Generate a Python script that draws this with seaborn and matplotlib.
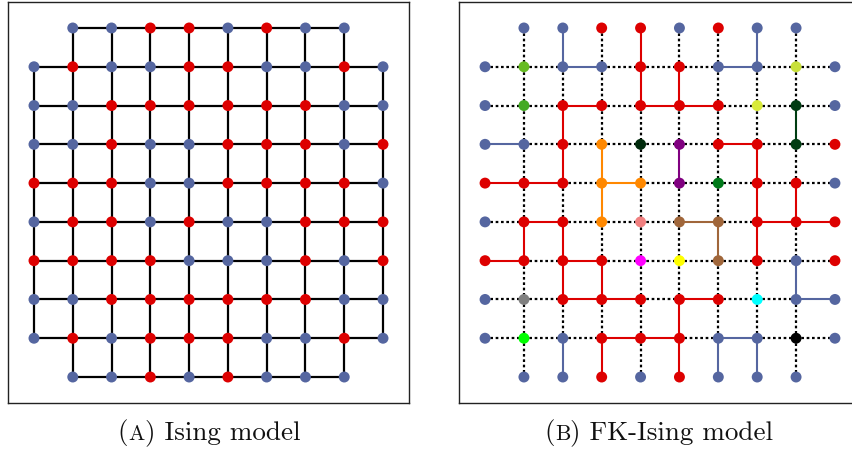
import pandas as pd
import matplotlib
matplotlib.use('Agg')
import matplotlib.pyplot as plt
import seaborn as sns
from matplotlib.offsetbox import TextArea, HPacker, AnnotationBbox

sns.set_style('white')

# ---- data: spins, row 0 at the top, '.' = no site ----
ising_rows = [
    '.BBRRBRBB.',
    'BRBBRRBBRB',
    'BBRRRRRRBB',
    'BBRBBRRRBR',
    'RRRBBRRRRB',
    'BRRBRBBRRR',
    'RRRRBBBRBR',
    'BBRRRRRRBB',
    'BRBRRRBBRB',
    '.BBRBRBBB.',
]

# FK-Ising: cluster colour code of every site
fk_rows = [
    '.BBRRBRBB.',
    'BgBBRRBByB',
    'BGRRRRRYdB',
    'BBRokpRRdR',
    'RRRoopeRRB',
    'BRRosnnRRR',
    'RRRRmwnRBR',
    'BaRRRRRcBB',
    'BlBRRRBBxB',
    '.BBRBRBBB.',
]

# open bonds, horizontal: rows 1..8, bond between col c and c+1
fk_h_open = [
    '001000100',
    '001011000',
    '100000100',
    '110100000',
    '010001011',
    '101000000',
    '001101001',
    '000110100',
]
# open bonds, vertical: between row r and r+1, cols 1..8
fk_v_open = [
    '01010010',
    '00011000',
    '01000001',
    '01101010',
    '00100011',
    '11000110',
    '01100001',
    '00001000',
    '01101110',
]

colors = {
    'B': '#5566a0', 'R': '#dd0000',
    'g': '#66bb22', 'G': '#44aa22', 'y': '#c8e03a', 'Y': '#d8ea3a',
    'd': '#003d12', 'k': '#002a0c', 'p': '#800080', 'o': '#ff8800',
    'e': '#007a1a', 's': '#f08080', 'n': '#a0663a', 'm': '#ff00ff',
    'w': '#ffff00', 'a': '#808080', 'c': '#00ffff', 'l': '#00ff00',
    'x': '#000000',
}

captions = [('(', 'A', ') Ising model'), ('(', 'B', ') FK-Ising model')]


def build_nodes(rows):
    recs = []
    for r, line in enumerate(rows):
        for c, ch in enumerate(line):
            if ch != '.':
                recs.append({'x': c, 'y': r, 'color': colors[ch]})
    return pd.DataFrame(recs)


def build_edges(rows, h_open=None, v_open=None):
    n = len(rows)
    recs = []
    eid = 0

    def boundary(r, c):
        return r in (0, n - 1) or c in (0, n - 1)

    for r in range(n):
        for c in range(n):
            if rows[r][c] == '.':
                continue
            for dr, dc in ((0, 1), (1, 0)):
                r2, c2 = r + dr, c + dc
                if r2 >= n or c2 >= n or rows[r2][c2] == '.':
                    continue
                if h_open is None:
                    kind, col = 'solid', '#000000'
                else:
                    # FK picture: no bonds along the outer boundary
                    if boundary(r, c) and boundary(r2, c2):
                        continue
                    if dr == 0:
                        is_open = h_open[r - 1][c] == '1'
                    else:
                        is_open = v_open[r][c - 1] == '1'
                    kind = 'solid' if is_open else 'dotted'
                    col = colors[rows[r][c]] if is_open else '#000000'
                recs.append({'edge': eid, 'x': c, 'y': r, 'color': col, 'kind': kind})
                recs.append({'edge': eid, 'x': c2, 'y': r2, 'color': col, 'kind': kind})
                eid += 1
    return pd.DataFrame(recs)


fig = plt.figure(figsize=(8.52, 4.51), dpi=100)
W, H = 852, 451
ax1 = fig.add_axes([8 / W, 48 / H, 401 / W, 401 / H])
ax2 = fig.add_axes([459 / W, 48 / H, 402 / W, 401 / H])

palette = {v: v for v in colors.values()}

# ---- (A) Ising model ----
e1 = build_edges(ising_rows)
sns.lineplot(data=e1, x='x', y='y', units='edge', estimator=None, sort=False,
             color='black', lw=1.6, ax=ax1, legend=False)
n1 = build_nodes(ising_rows)
sns.scatterplot(data=n1, x='x', y='y', hue='color', palette=palette, s=62,
                linewidth=0, ax=ax1, legend=False, zorder=5)

# ---- (B) FK-Ising model ----
e2 = build_edges(fk_rows, fk_h_open, fk_v_open)
dotted = e2[e2['kind'] == 'dotted']
solid = e2[e2['kind'] == 'solid']
sns.lineplot(data=dotted, x='x', y='y', units='edge', estimator=None, sort=False,
             color='black', lw=1.6, linestyle=(0, (1.2, 1.2)), ax=ax2, legend=False)
sns.lineplot(data=solid, x='x', y='y', units='edge', estimator=None, sort=False,
             hue='color', palette={c: c for c in solid['color'].unique()},
             lw=1.5, ax=ax2, legend=False)
n2 = build_nodes(fk_rows)
sns.scatterplot(data=n2, x='x', y='y', hue='color', palette=palette, s=62,
                linewidth=0, ax=ax2, legend=False, zorder=5)

for ax in (ax1, ax2):
    ax.set_xlim(-0.67, 9.67)
    ax.set_ylim(9.67, -0.67)
    ax.set_xticks([])
    ax.set_yticks([])
    ax.set_xlabel('')
    ax.set_ylabel('')
    for sp in ax.spines.values():
        sp.set_color('#222222')
        sp.set_linewidth(1.0)

# ---- captions with small-caps letter ----
fs = 19.5
for (pre, letter, post), xc in zip(captions, [209, 659]):
    tp = dict(family='cmr10', size=fs, color='#111111')
    tps = dict(family='cmr10', size=fs * 0.8, color='#111111')
    box = HPacker(children=[TextArea(pre, textprops=tp), TextArea(letter, textprops=tps),
                            TextArea(post, textprops=tp)],
                  align='baseline', pad=0, sep=0)
    ab = AnnotationBbox(box, (xc / W, 1 - 433 / H), xycoords='figure fraction',
                        frameon=False, box_alignment=(0.5, 0.5), pad=0)
    fig.add_artist(ab)

fig.savefig('out.png', dpi=100)
